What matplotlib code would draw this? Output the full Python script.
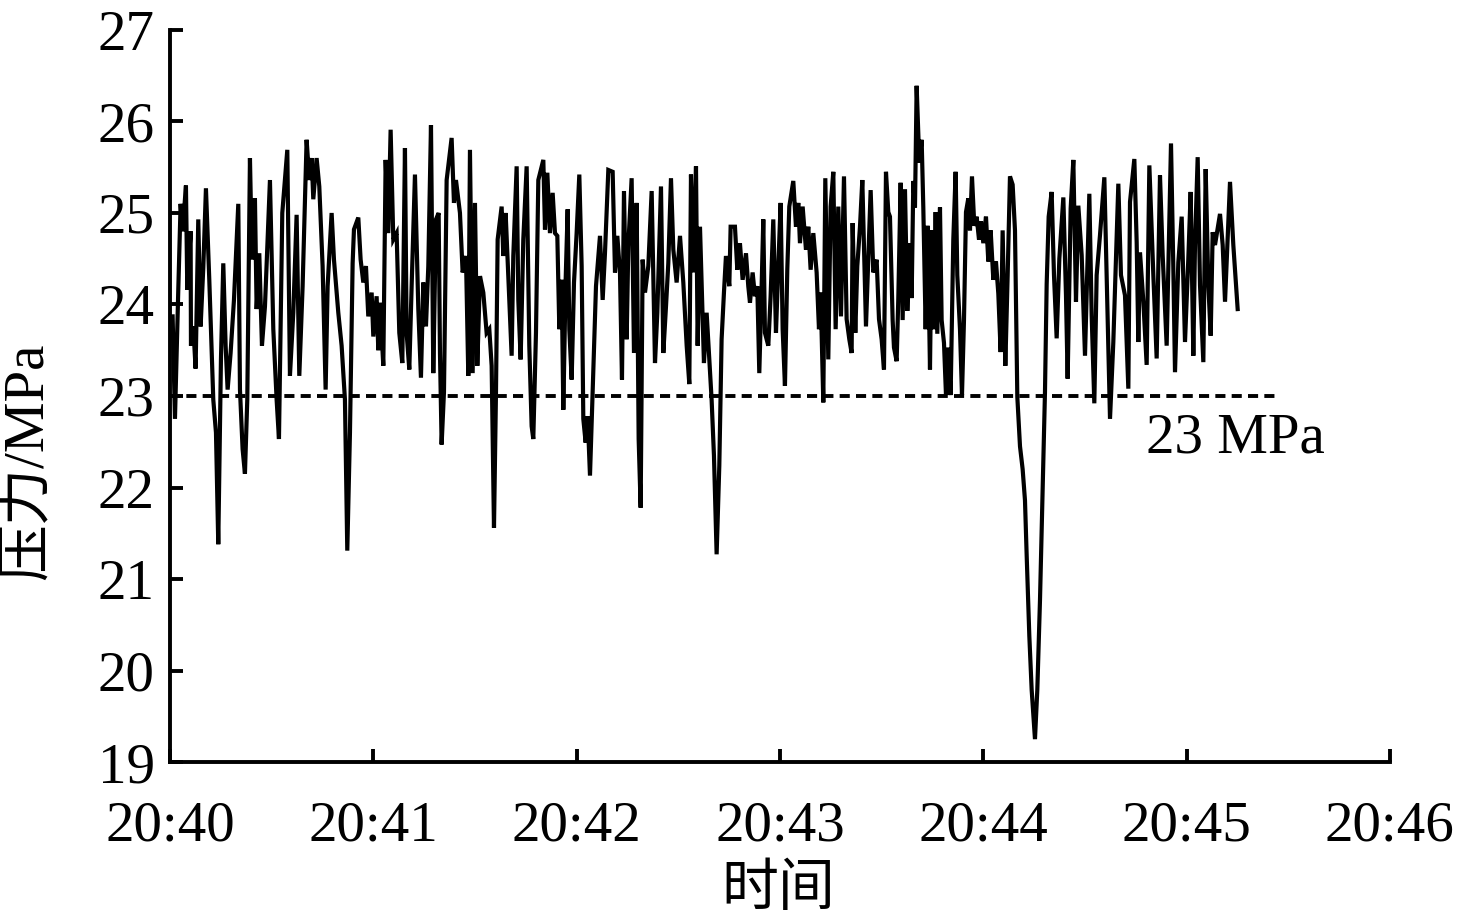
import pandas as pd
import matplotlib
matplotlib.use("Agg")
import matplotlib.pyplot as plt
import matplotlib.dates as mdates

# pressure trace: seconds after 20:40:00 and MPa
START = pd.Timestamp("2000-01-01 20:40:00")

seconds = [
    0.79, 1.48, 2.46, 3.15, 3.74, 4.72, 5.12, 6.10,
    6.20, 6.89, 7.57, 8.36, 9.05, 9.84, 10.62, 11.61,
    12.79, 13.58, 14.26, 15.05, 15.74, 16.43, 17.02, 17.90,
    18.89, 20.17, 20.66, 21.44, 22.13, 22.82, 23.61, 24.20,
    25.08, 25.58, 26.36, 27.15, 28.04, 29.51, 30.50, 31.48,
    32.17, 33.15, 34.63, 35.41, 36.40, 37.38, 38.17, 39.15,
    40.33, 41.12, 41.81, 42.30, 43.28, 44.07, 45.05, 45.94,
    46.53, 47.71, 48.40, 49.68, 50.66, 51.64, 52.33, 53.12,
    53.91, 54.30, 55.58, 56.27, 57.06, 57.84, 58.53, 59.52,
    60.01, 60.99, 61.48, 61.97, 62.96, 63.65, 64.43, 65.12,
    65.91, 66.89, 67.68, 68.57, 69.35, 69.84, 70.63, 71.32,
    72.30, 73.29, 74.07, 74.76, 75.55, 76.24, 77.03, 77.71,
    78.50, 79.29, 79.68, 80.17, 80.86, 81.65, 83.12, 83.81,
    84.40, 85.58, 86.37, 87.35, 88.04, 88.53, 89.32, 90.01,
    90.70, 91.49, 92.47, 93.45, 94.24, 94.93, 95.62, 96.21,
    96.70, 97.88, 98.37, 99.06, 99.85, 100.83, 101.32, 102.31,
    102.80, 103.49, 104.27, 105.26,
    106.04, 106.73, 107.22, 108.01, 108.70, 110.18, 110.67, 111.36,
    112.14, 112.93, 113.62, 114.31, 114.90, 115.59, 116.08, 116.77,
    117.36, 117.85, 118.54, 119.23, 120.01, 120.80, 121.49, 121.98,
    122.67, 123.26, 123.95, 124.73, 125.72, 126.90, 127.69, 128.37,
    129.36, 130.64, 131.33, 132.01, 132.80, 133.39, 133.98, 134.77,
    135.26, 136.24, 136.93, 137.72, 138.31, 138.90, 139.49, 140.18,
    141.16, 142.15, 143.13, 143.82, 144.90, 145.59, 146.38, 147.06,
    147.85, 148.54, 149.52, 150.51, 151.49, 152.48, 153.26, 153.75,
    154.44, 155.23, 155.72, 156.41,
    157.58, 158.37, 159.15, 159.84, 160.53, 161.32, 162.11, 162.79,
    163.48, 164.07, 165.06, 165.45, 166.73, 167.42, 168.20, 168.99,
    169.98, 170.66, 171.16, 171.94, 172.63, 173.32, 173.91, 174.60,
    175.09, 175.58, 176.57, 177.25, 178.04, 178.83, 179.52, 180.21,
    180.80, 181.48, 182.17, 182.76, 183.94, 184.73, 185.42, 185.91,
    186.70, 187.68, 188.37, 189.06, 189.85, 190.83, 191.52, 192.01,
    192.80, 193.39, 194.27, 194.96, 195.75, 196.44, 197.22, 198.01,
    198.90, 199.68, 200.47, 201.16, 201.45, 202.24, 202.83, 203.62,
    204.31, 205.39, 206.08, 206.77, 207.55, 208.54, 209.23, 210.01,
    210.70,
    211.29, 211.98, 212.47, 213.26, 213.65, 214.44, 214.93, 215.62,
    216.21, 216.90, 217.59, 218.37, 218.87, 219.36, 219.85, 220.34,
    221.13, 221.82, 222.31, 223.00, 223.59, 224.28, 224.77, 225.46,
    225.95, 226.44, 227.23, 227.72, 228.41, 229.00, 229.69, 230.37,
    231.16, 231.85, 232.34, 233.13, 233.72, 234.31, 234.90, 235.59,
    236.08, 236.67, 237.36, 238.05, 238.74, 239.33, 240.02, 240.80,
    241.49, 242.18, 242.97, 243.75, 244.44, 245.13, 245.72, 246.51,
    247.20, 247.88, 248.67, 249.36, 250.05, 250.84, 251.62, 252.31,
    252.80, 253.59, 254.28, 255.26, 255.95, 256.74, 257.52, 258.21,
    258.71, 259.30,
    260.18, 260.87, 261.66, 262.45, 263.63, 264.41, 264.90, 265.79,
    266.58, 267.36, 268.05, 269.04, 270.02, 271.30, 271.99, 272.77,
    273.46, 274.45, 275.73, 276.41, 277.40, 278.38, 279.86, 280.64,
    281.82, 282.81, 283.30, 284.58, 285.27, 285.76, 286.25, 287.24,
    288.22, 289.01, 290.19, 291.17, 292.15, 292.94, 294.12, 295.40,
    296.09, 296.58, 297.56, 298.55, 299.53, 300.51, 301.20, 301.99,
    302.48, 303.27, 303.96, 304.94, 305.63, 306.42, 307.11, 307.70,
    308.38, 309.86, 310.65, 311.34, 312.81, 313.79, 315.07,
]

pressure = [
    23.87, 22.75, 24.16, 25.10, 24.80, 25.30, 24.16, 24.80,
    23.55, 23.76, 23.30, 24.93, 23.76, 24.40, 25.27, 24.27,
    22.96, 22.60, 21.38, 23.40, 24.45, 23.55, 23.07, 23.47,
    24.05, 25.10, 23.07, 22.42, 22.15, 22.96, 25.60, 24.49,
    25.16, 23.95, 24.56, 23.55, 23.98, 25.36, 23.73, 22.96,
    22.53, 25.00, 25.69, 23.22, 23.91, 24.98, 23.22, 24.20,
    25.80, 25.36, 25.60, 25.15, 25.60, 25.29, 24.42, 23.07,
    24.20, 25.00, 24.49, 23.91, 23.55, 22.96, 21.31, 22.60,
    24.45, 24.82, 24.95, 24.49, 24.24, 24.42, 23.87, 24.13,
    23.65, 24.09, 23.50, 24.02, 23.33, 25.58, 24.78, 25.91,
    24.71, 24.78, 23.69, 23.36, 25.71, 23.69, 23.29, 24.20,
    25.42, 23.95, 23.20, 24.24, 23.76, 24.42, 25.96, 23.25,
    24.93, 25.00, 23.47, 22.47, 23.04, 25.36, 25.82, 25.11,
    25.36, 25.00, 24.35, 24.53, 23.22, 25.69, 23.25, 25.11,
    23.33, 24.31, 24.13, 23.69, 23.73, 23.33, 21.56, 23.04,
    24.71, 25.07, 24.53, 25.00, 24.31, 23.44, 24.53, 25.51,
    24.05, 23.40, 24.71, 25.51,
    23.55, 22.67, 22.53, 23.69, 25.36, 25.58, 24.82, 25.44,
    24.78, 25.22, 24.78, 24.75, 23.73, 24.27, 22.85, 24.27,
    25.04, 23.73, 23.18, 24.24, 24.78, 25.42, 24.42, 22.75,
    22.49, 22.78, 22.13, 23.04, 24.20, 24.75, 24.05, 24.56,
    25.47, 25.45, 24.35, 24.75, 24.35, 23.18, 25.24, 23.62,
    24.64, 25.38, 23.47, 25.11, 22.53, 21.78, 24.49, 24.13,
    24.42, 25.24, 23.36, 23.91, 25.29, 23.47, 23.98, 24.45,
    25.38, 24.60, 24.24, 24.75, 24.24, 23.55, 23.13, 25.42,
    24.35, 25.51, 23.55, 24.85,
    23.36, 23.91, 23.40, 22.96, 22.35, 21.27, 22.24, 23.62,
    24.13, 24.53, 24.20, 24.85, 24.85, 24.38, 24.67, 24.27,
    24.56, 24.20, 24.02, 24.35, 24.09, 24.20, 23.25, 24.20,
    24.93, 23.69, 23.55, 24.09, 24.93, 23.69, 24.42, 25.11,
    23.73, 23.11, 24.38, 25.07, 25.35, 24.85, 25.11, 24.67,
    25.07, 24.60, 24.85, 24.38, 24.78, 24.35, 23.73, 24.13,
    22.93, 25.38, 23.40, 25.07, 25.45, 23.73, 25.07, 23.87,
    25.40, 23.84, 23.62, 23.47, 24.89, 23.69, 24.42, 24.85,
    25.36, 23.76, 24.49, 25.25, 24.35, 24.49, 23.84, 23.62,
    23.29,
    25.45, 25.01, 24.96, 23.83, 23.53, 23.38, 24.07, 25.33,
    23.83, 25.26, 23.93, 24.67, 24.07, 25.35, 25.06, 26.39,
    25.55, 25.80, 25.06, 23.73, 24.86, 23.29, 24.81, 23.73,
    25.01, 23.68, 25.06, 23.83, 23.58, 23.01, 23.53, 23.01,
    24.71, 25.45, 24.32, 23.73, 23.01, 23.83, 25.01, 25.16,
    24.81, 25.40, 24.86, 24.96, 24.71, 24.91, 24.67, 24.96,
    24.47, 24.81, 24.27, 24.47, 24.12, 23.48, 24.81, 23.33,
    24.32, 25.40, 25.31, 24.81, 22.99, 22.45, 22.20, 21.86,
    21.27, 20.38, 19.79, 19.25, 19.79, 20.77, 22.00, 23.04,
    24.22, 24.96,
    25.23, 24.32, 23.63, 24.50, 25.17, 24.10, 23.19, 25.05,
    25.58, 24.03, 25.08, 24.54, 23.44, 25.21, 23.88, 22.92,
    24.32, 24.76, 25.39, 24.32, 22.75, 23.59, 25.32, 24.32,
    24.10, 23.08, 25.12, 25.59, 24.68, 23.59, 24.57, 24.03,
    23.34, 25.52, 24.32, 23.41, 25.41, 24.54, 23.55, 25.76,
    24.39, 23.26, 24.46, 24.96, 23.59, 24.50, 25.23, 23.44,
    24.65, 25.61, 24.21, 23.37, 25.48, 24.21, 23.66, 24.79,
    24.65, 24.99, 24.65, 24.03, 25.34, 24.65, 23.95,
]

THRESHOLD = 23.0
THRESHOLD_END_S = 326
THRESHOLD_LABEL = "23 MPa"
LABEL_AT_S = 314.5
LABEL_AT_P = 22.38

X_LABEL = "时间"
Y_LABEL = "压力/MPa"

assert len(seconds) == len(pressure)

plt.rcParams["font.family"] = ["Liberation Serif", "Noto Sans CJK SC"]
plt.rcParams["font.size"] = 41

fig = plt.figure(figsize=(14.6, 9.22), dpi=100)
ax = fig.add_axes([0.1164, 0.1735, 0.8356, 0.7940])

times = START + pd.to_timedelta(seconds, unit="s")
ax.plot(times, pressure, color="black", lw=3.0, solid_joinstyle="miter")

thr_x = [START, START + pd.Timedelta(seconds=THRESHOLD_END_S)]
ax.plot(thr_x, [THRESHOLD, THRESHOLD], color="black", lw=2.8,
        linestyle=(0, (2.6, 1.6)))
ax.text(START + pd.Timedelta(seconds=LABEL_AT_S), LABEL_AT_P, THRESHOLD_LABEL,
        ha="center", va="baseline")

ax.set_xlim(START, START + pd.Timedelta(minutes=6))
ax.set_ylim(19, 27)
ax.set_yticks(range(19, 28))
ax.xaxis.set_major_locator(mdates.MinuteLocator())
ax.xaxis.set_major_formatter(mdates.DateFormatter("%H:%M"))

for side in ("top", "right"):
    ax.spines[side].set_visible(False)
for side in ("left", "bottom"):
    ax.spines[side].set_linewidth(2.8)

ax.tick_params(direction="in", length=9.6, width=2.8, labelsize=41)
ax.tick_params(axis="y", pad=11)
ax.tick_params(axis="x", pad=28)

fig.text(28 / 1460, 1 - 461 / 922, Y_LABEL, rotation=90,
         ha="center", va="center")
fig.text(778 / 1460, 1 - 891 / 922, X_LABEL, ha="center", va="center")

fig.savefig("out.png", dpi=100)
